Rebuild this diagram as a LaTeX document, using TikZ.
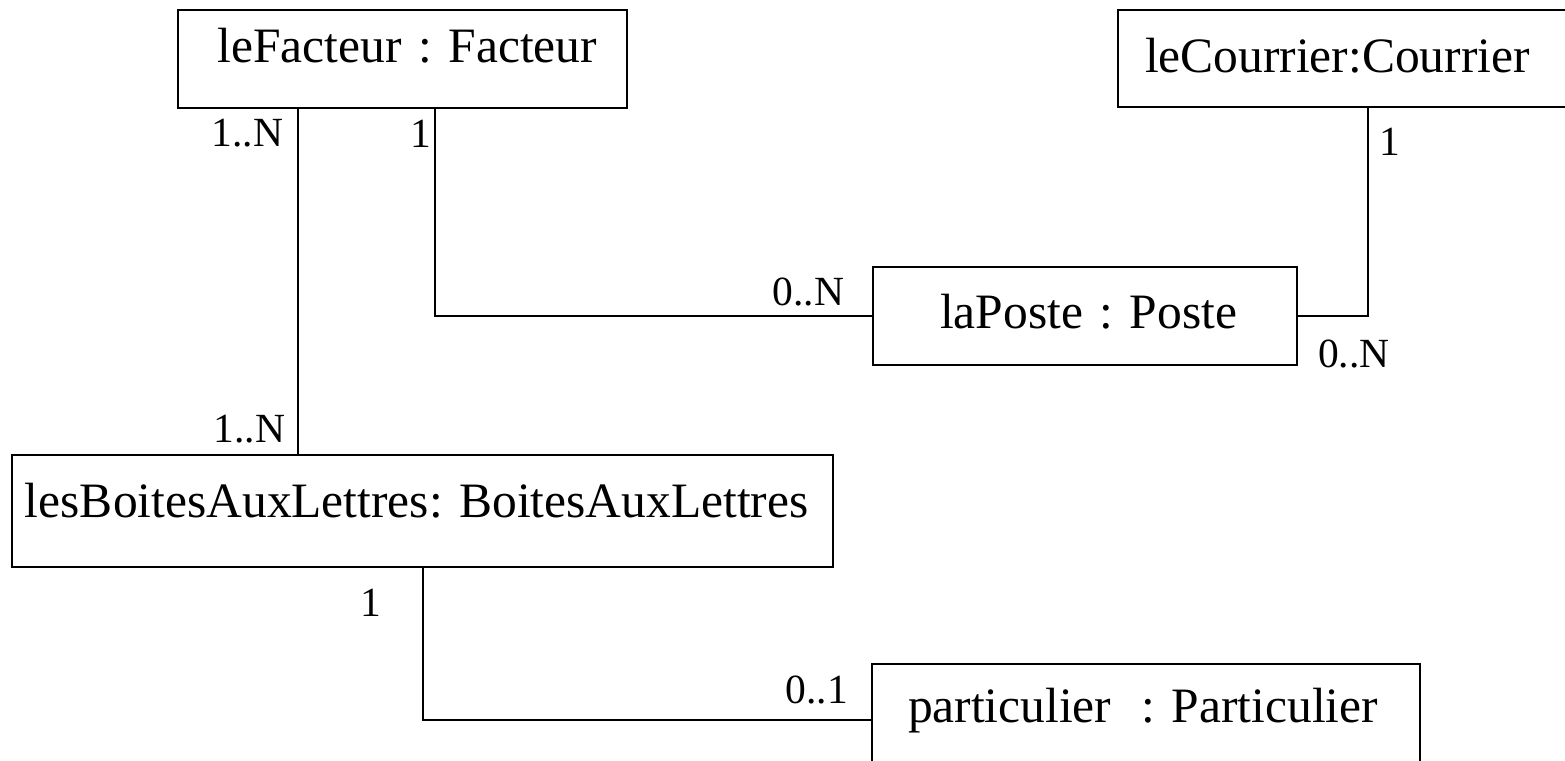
\documentclass[tikz,border=0pt]{standalone}
\usepackage{fontspec}
\setmainfont{Liberation Serif}
\newfontfamily\objfamily[WordSpace=0.7]{Liberation Serif}
\usepackage{tikz}

\begin{document}
\frenchspacing
\begin{tikzpicture}[x=0.5pt, y=-0.5pt, line width=1pt,
    obj/.style={draw, inner ysep=0pt, outer sep=0pt, font=\objfamily\fontsize{24.75pt}{30pt}\selectfont},
    mult/.style={inner sep=0pt, font=\fontsize{20.75pt}{25pt}\selectfont}]
    \useasboundingbox (0,0) rectangle (1565,761);
    \node[obj, align=right, inner xsep=15pt, text width=194.5pt, text height=26pt, text depth=23pt](facteur) at (402.5,59){leFacteur : Facteur};
    \node[obj, align=left, inner xsep=13.5pt, text width=209pt, text height=31pt, text depth=17.5pt](courrier) at (1354,58.5){leCourrier:Courrier};
    \node[obj, align=right, inner xsep=30pt, text width=152pt, text height=30.5pt, text depth=18.5pt](poste) at (1085,316){laPoste : Poste};
    \node[obj, align=left, inner xsep=6.5pt, text width=397.5pt, text height=31pt, text depth=25pt](boites) at (422.5,511){lesBoitesAuxLettres: BoitesAuxLettres};
    \node[obj, align=left, inner xsep=18pt, text width=238pt, text height=29pt, text depth=27pt](particulier) at (1146,720){particulier\hspace{0.61em}: Particulier};
    \coordinate (f1) at ([xshift=60pt]facteur.south west);
    \coordinate (f2) at ([xshift=128.5pt]facteur.south west);
    \coordinate (c1) at ([xshift=125pt]courrier.south west);
    \coordinate (b1) at ([xshift=205.5pt]boites.south west);
    \draw (f1) -- node[mult, pos=0.112, anchor=base east, xshift=-7pt]{1..N}
        node[mult, pos=0.965, anchor=base east, xshift=-6pt]{1..N} (f1 |- boites.north);
    \draw (f2) |- node[mult, pos=0.094, anchor=base east, xshift=-1.5pt]{1}
        node[mult, pos=1, anchor=base east, xshift=-14pt, yshift=5.5pt]{0..N} (poste.west);
    \draw (c1) |- node[mult, pos=0.115, anchor=base west, xshift=5.25pt]{1}
        node[mult, pos=1, anchor=base west, xshift=10pt, yshift=-25.5pt]{0..N} (poste.east);
    \draw (b1) |- node[mult, pos=0.163, anchor=base east, xshift=-20.5pt]{1}
        node[mult, pos=1, anchor=base east, xshift=-11.5pt, yshift=8.5pt]{0..1} (particulier.west);
\end{tikzpicture}
\end{document}
